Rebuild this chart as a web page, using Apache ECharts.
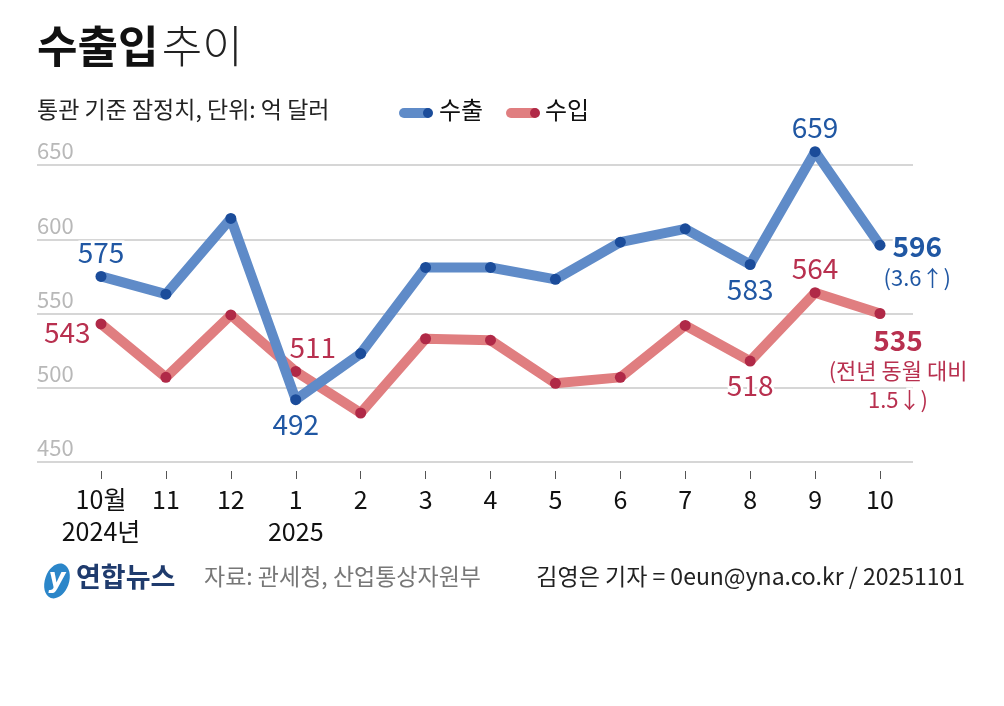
<!DOCTYPE html>
<html>
<head>
<meta charset="utf-8">
<style>
  * { margin: 0; padding: 0; }
  #container { width: 1004px; height: 706px; background: #fff; }
</style>
</head>
<body>
<div id="container"></div>
<script src="https://cdn.jsdelivr.net/npm/echarts@6/dist/echarts.min.js"></script>
<script>
    var months = ['10월\n2024년', '11', '12', '1\n2025', '2', '3', '4', '5', '6', '7', '8', '9', '10'];
    var exportsVal = [575, 563, 614, 492, 523, 581, 581, 573, 598, 607, 583, 659, 596];
    var importsVal = [543, 507, 549, 511, 483, 533, 532, 503, 507, 542, 518, 564, 550];
    // printed labels (the last import point sits on 550 in the original but reads 535)
    var exportLabels = ['575', '', '', '492', '', '', '', '', '', '', '583', '659', '596'];
    var importLabels = ['543', '', '', '511', '', '', '', '', '', '', '518', '564', '535'];
    var yTicks = [450, 500, 550, 600, 650];

    var FONT = 'Noto Sans CJK KR';
    var BLUE_LINE = '#5f8bc8', BLUE_DOT = '#1b4c9a', BLUE_TXT = '#2057a3';
    var RED_LINE = '#e07e80', RED_DOT = '#b02947', RED_TXT = '#b8304f';

    var dom = document.getElementById('container');
    var myChart = echarts.init(dom);

    function labelFor(text, color, pos, offset) {
        return {
            show: text !== '',
            position: pos,
            offset: offset || [0, 0],
            distance: 5,
            color: color,
            fontSize: 28,
            fontFamily: FONT,
            textBorderColor: '#fff',
            textBorderWidth: 5,
            formatter: function () { return text; }
        };
    }

    var exportPos = { 0: ['top'], 3: ['bottom'], 10: ['bottom'], 11: ['top'] };
    var importPos = { 0: ['left', [0, 8]], 3: ['top', [17, 0]], 10: ['bottom'], 11: ['top'] };

    var exportData = exportsVal.map(function (v, i) {
        var d = { value: v };
        if (exportPos[i]) d.label = labelFor(exportLabels[i], BLUE_TXT, exportPos[i][0], exportPos[i][1]);
        return d;
    });
    var importData = importsVal.map(function (v, i) {
        var d = { value: v };
        if (importPos[i]) d.label = labelFor(importLabels[i], RED_TXT, importPos[i][0], importPos[i][1]);
        return d;
    });

    // last points get a two-part annotation
    exportData[12].label = {
        show: true, position: 'right', distance: 5, offset: [-7, 16],
        fontFamily: FONT, textBorderColor: '#fff', textBorderWidth: 5,
        formatter: '{b|' + exportLabels[12] + '}\n{s|(3.6↑)}',
        rich: {
            b: { fontSize: 28, fontWeight: 'bold', color: BLUE_TXT, fontFamily: FONT, lineHeight: 32, align: 'center', textBorderColor: '#fff', textBorderWidth: 5 },
            s: { fontSize: 22, color: BLUE_TXT, fontFamily: FONT, lineHeight: 30, align: 'center', textBorderColor: '#fff', textBorderWidth: 5 }
        }
    };
    importData[12].label = {
        show: true, position: 'bottom', distance: 5, offset: [18, 0],
        fontFamily: FONT, textBorderColor: '#fff', textBorderWidth: 5,
        formatter: '{b|' + importLabels[12] + '}\n{s|(전년 동월 대비}\n{s|1.5↓)}',
        rich: {
            b: { fontSize: 28, fontWeight: 'bold', color: RED_TXT, fontFamily: FONT, lineHeight: 32, align: 'center', textBorderColor: '#fff', textBorderWidth: 5 },
            s: { fontSize: 22, color: RED_TXT, fontFamily: FONT, lineHeight: 29, align: 'center', textBorderColor: '#fff', textBorderWidth: 5 }
        }
    };

    var option = {
        animation: false,
        textStyle: { fontFamily: FONT },
        grid: [
            { left: 101, right: 124, top: 165, bottom: 244 },
            { left: 37, right: 91, top: 165, bottom: 244 }
        ],
        xAxis: [
            {
                type: 'category', gridIndex: 0, data: months, boundaryGap: false, offset: 9,
                axisLine: { show: false },
                axisTick: { show: true, length: 8, lineStyle: { color: '#555', width: 1 } },
                axisLabel: { color: '#111', fontSize: 25, lineHeight: 32, margin: 12, interval: 0, fontFamily: FONT }
            },
            { type: 'value', gridIndex: 1, show: false, min: 0, max: 1 }
        ],
        yAxis: [
            { type: 'value', gridIndex: 0, min: yTicks[0], max: yTicks[yTicks.length - 1], interval: 50, show: false },
            {
                type: 'value', gridIndex: 1, min: yTicks[0], max: yTicks[yTicks.length - 1], interval: 50,
                axisLine: { show: false }, axisTick: { show: false },
                splitLine: { show: true, lineStyle: { color: '#c8c8c8', width: 1.5 } },
                axisLabel: {
                    inside: true, margin: 0, verticalAlign: 'bottom', padding: [0, 0, 3, 0],
                    color: '#b8b8b8', fontSize: 22, fontFamily: FONT
                }
            }
        ],
        series: [
            {
                name: '수입', type: 'line', xAxisIndex: 0, yAxisIndex: 0, data: importData,
                lineStyle: { color: RED_LINE, width: 10 },
                itemStyle: { color: RED_DOT },
                symbol: 'circle', symbolSize: 11, z: 3, clip: false
            },
            {
                name: '수출', type: 'line', xAxisIndex: 0, yAxisIndex: 0, data: exportData,
                lineStyle: { color: BLUE_LINE, width: 10 },
                itemStyle: { color: BLUE_DOT },
                symbol: 'circle', symbolSize: 11, z: 4, clip: false
            }
        ],
        graphic: [
            {
                type: 'text', left: 37, top: 24,
                style: {
                    text: '{b|수출입} {l|추이}',
                    rich: {
                        b: { fontSize: 44, fontWeight: 'bold', fill: '#111', fontFamily: FONT },
                        l: { fontSize: 44, fontWeight: 300, fill: '#222', fontFamily: FONT }
                    }
                }
            },
            {
                type: 'text', left: 37, top: 98,
                style: { text: '통관 기준 잠정치, 단위: 억 달러', fontSize: 23, fill: '#222', fontFamily: FONT }
            },
            // legend: export
            { type: 'line', shape: { x1: 404, y1: 113, x2: 427, y2: 113 }, style: { stroke: BLUE_LINE, lineWidth: 10, lineCap: 'round' } },
            { type: 'circle', shape: { cx: 428, cy: 113, r: 5 }, style: { fill: BLUE_DOT } },
            { type: 'text', left: 439, top: 98, style: { text: '수출', fontSize: 24, fill: '#111', fontFamily: FONT } },
            // legend: import
            { type: 'line', shape: { x1: 511, y1: 113, x2: 534, y2: 113 }, style: { stroke: RED_LINE, lineWidth: 10, lineCap: 'round' } },
            { type: 'circle', shape: { cx: 535, cy: 113, r: 5 }, style: { fill: RED_DOT } },
            { type: 'text', left: 545, top: 98, style: { text: '수입', fontSize: 24, fill: '#111', fontFamily: FONT } },
            // footer logo
            {
                type: 'ellipse', shape: { cx: 57, cy: 581, rx: 12, ry: 18 }, rotation: -0.35, originX: 57, originY: 581,
                style: { fill: '#2b86c9' }
            },
            {
                type: 'text', x: 57, y: 580,
                style: { text: 'y', fontSize: 26, fontWeight: 'bold', fontStyle: 'italic', fill: '#fff', align: 'center', verticalAlign: 'middle', fontFamily: 'DejaVu Sans' }
            },
            {
                type: 'text', left: 76, top: 563,
                style: { text: '연합뉴스', fontSize: 27, fontWeight: 'bold', fill: '#1f3b6d', fontFamily: FONT }
            },
            {
                type: 'text', left: 204, top: 565,
                style: { text: '자료: 관세청, 산업통상자원부', fontSize: 23, fill: '#777', fontFamily: FONT }
            },
            {
                type: 'text', right: 39, top: 565,
                style: { text: '김영은 기자 = 0eun@yna.co.kr / 20251101', fontSize: 23, fill: '#222', fontFamily: FONT }
            }
        ]
    };

    if (option && typeof option === 'object') {
        myChart.setOption(option);
    }
</script>
</body>
</html>
